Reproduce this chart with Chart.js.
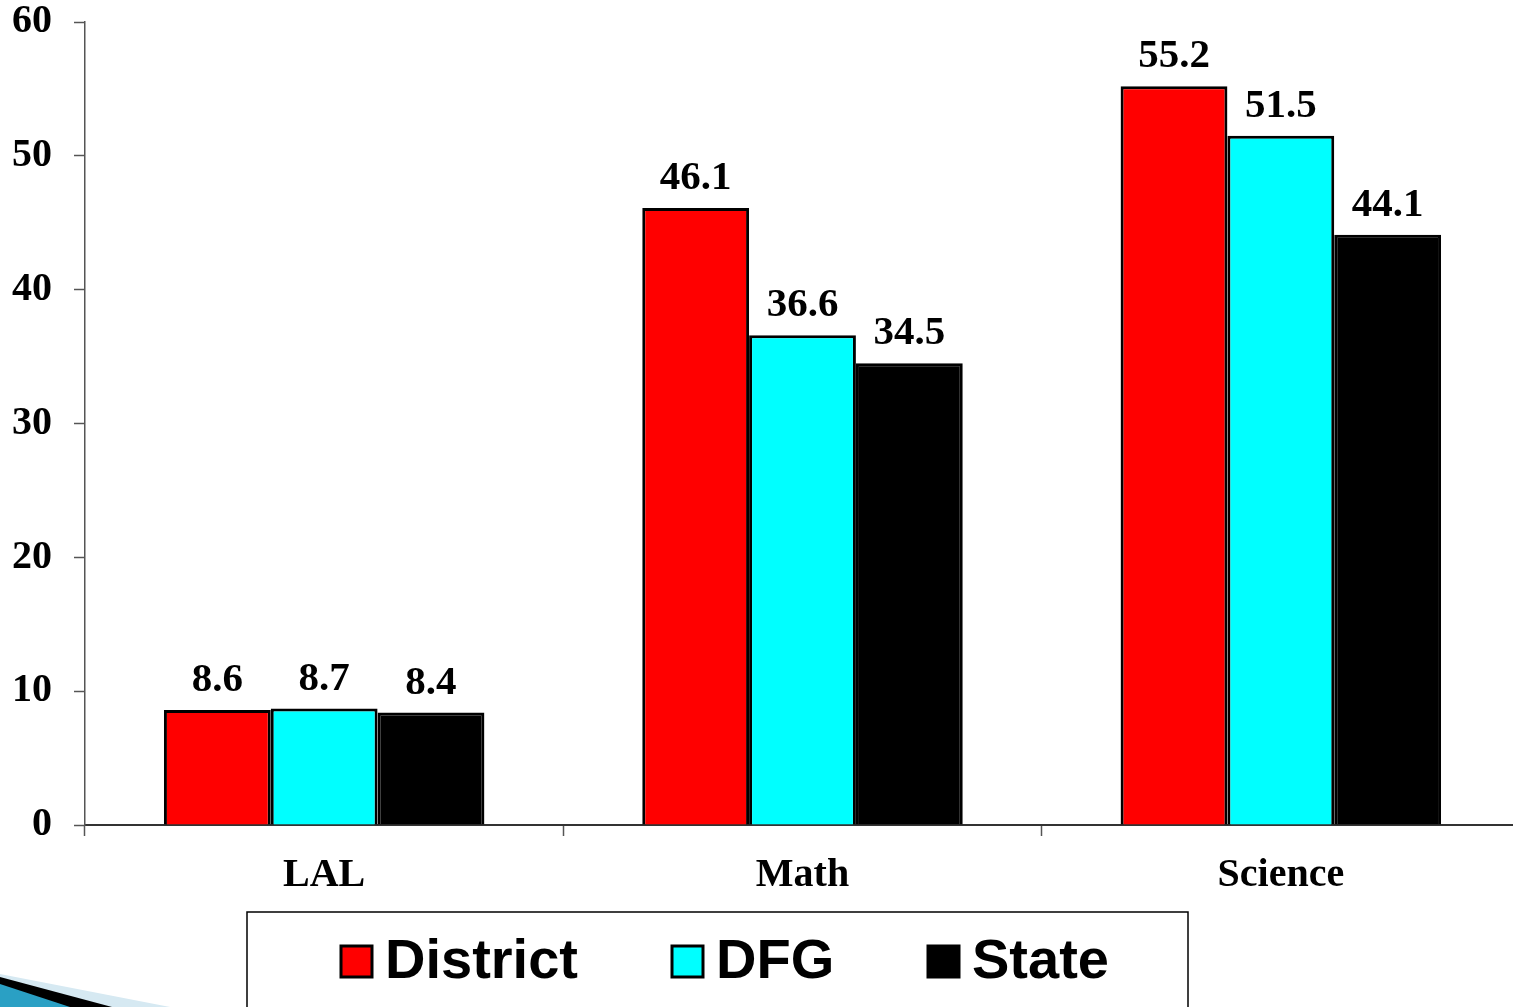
<!DOCTYPE html>
<html>
<head>
<meta charset="utf-8">
<title>District vs DFG vs State</title>
<script src="https://cdn.jsdelivr.net/npm/chart.js@4.4.0/dist/chart.umd.min.js"></script>
<style>
    html, body { margin: 0; padding: 0; background: #fff; }
    #wrap { width: 1513px; height: 1007px; position: relative; }
</style>
</head>
<body>
<div id="wrap"><canvas id="myChart"></canvas></div>
<script>
// chart data
const categories = ['LAL', 'Math', 'Science'];
const seriesNames = ['District', 'DFG', 'State'];
const districtValues = [8.6, 46.1, 55.2];
const dfgValues = [8.7, 36.6, 51.5];
const stateValues = [8.4, 34.5, 44.1];
const seriesColors = ['#ff0000', '#00ffff', '#000000'];
const yTicks = [0, 10, 20, 30, 40, 50, 60];

const serif = "'Liberation Serif', 'Times New Roman', serif";
const sans = "'Liberation Sans', Arial, sans-serif";

// pin the plot area: top edge at 22px, right edge runs a little past the canvas
const plotArea = {
    id: 'plotArea',
    afterLayout(chart) {
        const x = chart.scales.x, y = chart.scales.y;
        y.top = 22;
        y.height = y.bottom - y.top;
        y.configure();
        x.right = 1520;
        x.width = x.right - x.left;
        x.configure();
        chart.chartArea.top = 22;
        chart.chartArea.right = 1520;
        chart.chartArea.width = chart.chartArea.right - chart.chartArea.left;
        chart.chartArea.height = chart.chartArea.bottom - chart.chartArea.top;
    }
};

// value labels above each bar
const valueLabels = {
    id: 'valueLabels',
    afterDatasetsDraw(chart) {
        const ctx = chart.ctx;
        ctx.save();
        ctx.font = 'bold 41px ' + serif;
        ctx.fillStyle = '#000';
        ctx.textAlign = 'center';
        ctx.textBaseline = 'alphabetic';
        chart.data.datasets.forEach((ds, i) => {
            chart.getDatasetMeta(i).data.forEach((bar, j) => {
                ctx.fillText(ds.data[j].toFixed(1), bar.x, bar.y - 19);
            });
        });
        ctx.restore();
    }
};

// boxed legend at the bottom plus the little corner swoosh
const boxLegend = {
    id: 'boxLegend',
    afterDraw(chart) {
        const ctx = chart.ctx;
        ctx.save();

        // corner decoration
        ctx.fillStyle = '#d6e9f2';
        ctx.beginPath();
        ctx.moveTo(0, 974); ctx.lineTo(170, 1007); ctx.lineTo(0, 1007); ctx.closePath();
        ctx.fill();
        ctx.fillStyle = '#000';
        ctx.beginPath();
        ctx.moveTo(0, 977); ctx.lineTo(112, 1007); ctx.lineTo(0, 1007); ctx.closePath();
        ctx.fill();
        ctx.fillStyle = '#2aa0c4';
        ctx.beginPath();
        ctx.moveTo(0, 984); ctx.lineTo(70, 1007); ctx.lineTo(0, 1007); ctx.closePath();
        ctx.fill();

        // legend frame
        ctx.strokeStyle = '#000';
        ctx.lineWidth = 1.5;
        ctx.strokeRect(247, 912, 941, 110);

        const boxX = [341, 672, 928];
        ctx.font = 'bold 56px ' + sans;
        ctx.textBaseline = 'middle';
        ctx.textAlign = 'left';
        chart.data.datasets.forEach((ds, i) => {
            ctx.fillStyle = ds.backgroundColor;
            ctx.fillRect(boxX[i], 946, 31, 31);
            ctx.lineWidth = 3;
            ctx.strokeStyle = '#000';
            ctx.strokeRect(boxX[i], 946, 31, 31);
            ctx.fillStyle = '#000';
            ctx.fillText(ds.label, boxX[i] + 44, 963);
        });
        ctx.restore();
    }
};

const ctx = document.getElementById('myChart').getContext('2d');
const myChart = new Chart(ctx, {
    type: 'bar',
    data: {
        labels: categories,
        datasets: [
            { label: seriesNames[0], data: districtValues, backgroundColor: seriesColors[0] },
            { label: seriesNames[1], data: dfgValues, backgroundColor: seriesColors[1] },
            { label: seriesNames[2], data: stateValues, backgroundColor: seriesColors[2] }
        ]
    },
    options: {
        responsive: true,
        maintainAspectRatio: false,
        animation: false,
        layout: { padding: { top: 0, right: 0, bottom: 120, left: 0 } },
        datasets: {
            bar: {
                borderColor: '#000',
                borderWidth: 3,
                categoryPercentage: 0.67,
                barPercentage: 1
            }
        },
        plugins: {
            legend: { display: false },
            tooltip: { enabled: false }
        },
        scales: {
            x: {
                grid: {
                    drawOnChartArea: false,
                    tickLength: 11,
                    tickColor: '#555',
                    tickWidth: 1.5
                },
                border: { color: '#333', width: 2 },
                ticks: {
                    color: '#000',
                    padding: 16,
                    font: { family: serif, size: 40, weight: 'bold' }
                },
                afterFit(scale) { scale.height = 62; }
            },
            y: {
                min: 0,
                max: 60,
                afterBuildTicks(scale) {
                    scale.ticks = yTicks.map(v => ({ value: v }));
                },
                grid: {
                    drawOnChartArea: false,
                    tickLength: 11,
                    tickColor: '#555',
                    tickWidth: 1.5
                },
                border: { color: '#555', width: 1.5 },
                ticks: {
                    color: '#000',
                    padding: 22,
                    font: { family: serif, size: 40, weight: 'bold' }
                },
                afterFit(scale) { scale.width = 85; }
            }
        }
    },
    plugins: [plotArea, valueLabels, boxLegend]
});
</script>
</body>
</html>
